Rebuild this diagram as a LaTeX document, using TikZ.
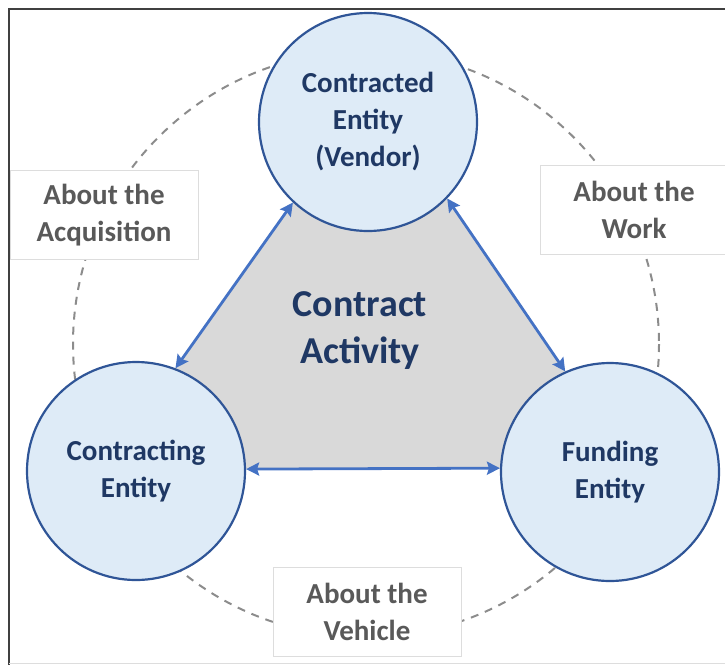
\documentclass[tikz,border=0pt]{standalone}
\usepackage{fontspec}
\setmainfont{Carlito}
\usetikzlibrary{arrows.meta,backgrounds}
\definecolor{entityfill}{HTML}{DEEBF7}
\definecolor{entityline}{HTML}{2F5597}
\definecolor{entitytext}{HTML}{1F3864}
\definecolor{linkblue}{HTML}{4472C4}
\definecolor{activitygray}{HTML}{D9D9D9}
\definecolor{aboutgray}{HTML}{595959}
\definecolor{boxline}{HTML}{DDDDDD}
\definecolor{ringgray}{HTML}{8C8C8C}
\definecolor{framedark}{HTML}{404040}
\tikzset{
  entitynode/.style={shape=circle, draw=entityline, fill=entityfill, line width=2.2pt,
    minimum size=218pt, inner sep=0pt, align=center, text=entitytext,
    font=\bfseries\fontsize{29}{37}\selectfont},
  aboutnode/.style={shape=rectangle, draw=boxline, fill=white, line width=0.8pt,
    minimum width=188pt, minimum height=89pt, inner sep=0pt, align=center, text=aboutgray,
    font=\bfseries\fontsize{29}{37}\selectfont},
  linkarrow/.style={draw=linkblue, line width=2.8pt,
    {Stealth[length=13pt,width=13pt,inset=2pt]}-{Stealth[length=13pt,width=13pt,inset=2pt]}}
}
\newcommand{\entity}[4]{\node[entitynode] (#1) at ( #2 , #3 ) {#4};}
\newcommand{\aboutbox}[4]{\node[aboutnode] (#1) at ( #2 , #3 ) {#4};}

\begin{document}
\begin{tikzpicture}[x=1pt,y=-1pt]
        \useasboundingbox (0,0) rectangle (725,665);
        % frame
        \draw[framedark, line width=2pt] (9,665) -- (9,9) -- (725,9);
        \draw[boxline, line width=1pt] (9,663) -- (725,663);
        % dashed ring
        \draw[ringgray, line width=2pt, dash pattern=on 8pt off 7pt] (366,344) circle (293);
        % about boxes
        \aboutbox{acquisition}{104}{215}{About the\\Acquisition}
        \aboutbox{work}{634}{210}{About the\\Work}
        \aboutbox{vehicle}{367}{612}{About the\\Vehicle}
        % entities
        \entity{vendor}{368}{122}{Contracted\\Entity\\(Vendor)}
        \entity{contracting}{136}{471}{Contracting\\Entity}
        \entity{funding}{610}{472}{Funding\\Entity}
        % contract activity area
        \begin{scope}[on background layer]
          \fill[activitygray] (vendor.center) -- (vendor.227) -- (contracting.69)
            -- (contracting.center) -- (contracting.1) -- (funding.178) -- (funding.center)
            -- (funding.114) -- (vendor.316) -- cycle;
        \end{scope}
        \node[text=entitytext, align=center, font=\bfseries\fontsize{38}{47}\selectfont]
          (activity) at (360,331) {Contract\\Activity};
        % links
        \draw[linkarrow] (vendor.227) -- (contracting.69);
        \draw[linkarrow] (vendor.316) -- (funding.114);
        \draw[linkarrow] (contracting.1) -- (funding.178);
    \end{tikzpicture}
\end{document}
